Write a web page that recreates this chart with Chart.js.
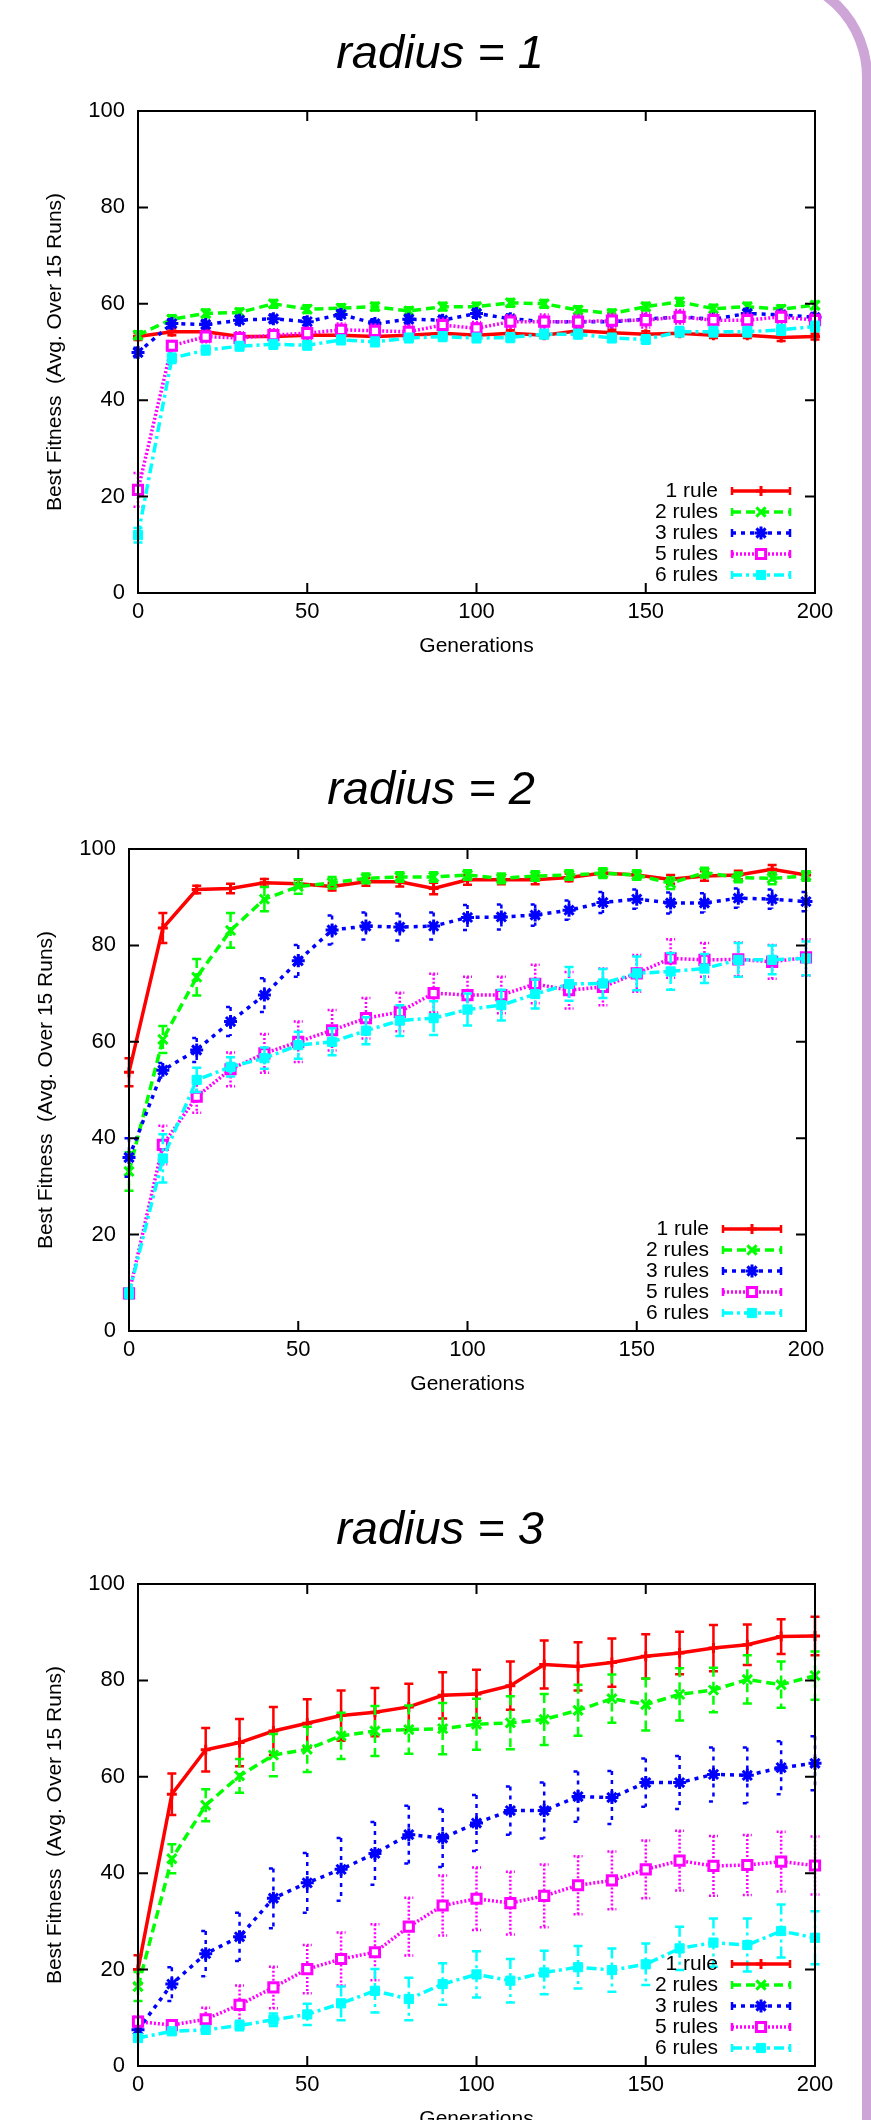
<!DOCTYPE html>
<html>
<head>
<meta charset="utf-8">
<title>Best fitness by radius</title>
<script src="https://cdn.jsdelivr.net/npm/chart.js@4.4.1/dist/chart.umd.min.js"></script>
<style>
  html, body { margin: 0; padding: 0; background: #fff; }
  body { width: 871px; height: 2120px; overflow: hidden; position: relative; }
  #frame { position: absolute; left: -300px; top: -29px; width: 1172px; height: 2400px;
           box-sizing: border-box; border: 10px solid #cda5d6; border-radius: 106px; }
  .panel { position: absolute; width: 871px; height: 738px; }
  .panel canvas { display: block; }
</style>
</head>
<body>
<div id="frame"></div>
<div class="panel" style="left:0;top:0"><canvas id="c1" width="871" height="738"></canvas></div>
<div class="panel" style="left:-9px;top:738px"><canvas id="c2" width="871" height="738"></canvas></div>
<div class="panel" style="left:0;top:1473px"><canvas id="c3" width="871" height="738"></canvas></div>
<script>
// generations sampled every 10
const gens = [0, 10, 20, 30, 40, 50, 60, 70, 80, 90, 100, 110, 120, 130, 140, 150, 160, 170, 180, 190, 200];
const ruleLabels = ['1 rule', '2 rules', '3 rules', '5 rules', '6 rules'];

// radius = 1
const r1One   = [53.2, 54.2, 54.2, 53.2, 53.2, 53.5, 53.5, 53.2, 53.5, 53.9, 53.5, 53.9, 53.5, 54.4, 54.0, 53.7, 53.9, 53.5, 53.5, 53.0, 53.2];
const r1Two   = [53.5, 56.8, 58.0, 58.2, 60.0, 58.9, 59.1, 59.4, 58.5, 59.4, 59.4, 60.2, 60.0, 58.7, 58.0, 59.4, 60.4, 59.0, 59.4, 58.9, 59.7];
const r1Three = [49.9, 55.9, 55.7, 56.6, 56.9, 56.3, 57.8, 55.9, 56.8, 56.6, 58.0, 56.9, 56.3, 56.3, 56.3, 56.8, 57.3, 56.8, 58.0, 57.7, 57.2];
const r1Five  = [21.4, 51.3, 53.2, 52.9, 53.5, 53.9, 54.6, 54.4, 54.2, 55.6, 54.9, 56.3, 56.3, 56.3, 56.5, 56.6, 57.3, 56.6, 56.6, 57.3, 56.6];
const r1Six   = [12.0, 48.7, 50.4, 51.2, 51.6, 51.4, 52.5, 52.1, 52.9, 53.2, 52.9, 53.0, 53.7, 53.7, 52.9, 52.6, 54.2, 54.2, 54.2, 54.6, 55.3];
const r1OneErr   = [0.7, 0.7, 0.6, 0.6, 0.6, 0.6, 0.6, 0.6, 0.6, 0.6, 0.6, 0.6, 0.6, 0.6, 0.6, 0.6, 0.6, 0.6, 0.6, 0.7, 0.6];
const r1TwoErr   = [0.8, 0.8, 0.8, 0.8, 0.8, 0.8, 0.8, 0.8, 0.8, 0.8, 0.8, 0.8, 0.8, 0.8, 0.8, 0.8, 0.8, 0.8, 0.8, 0.8, 0.8];
const r1ThreeErr = [1.0, 0.9, 0.9, 0.9, 0.9, 0.9, 0.9, 0.9, 0.9, 0.9, 0.9, 0.9, 0.9, 0.9, 0.9, 0.9, 0.9, 0.9, 0.9, 0.9, 0.9];
const r1FiveErr  = [3.5, 1.0, 1.2, 1.2, 1.2, 1.2, 1.3, 1.3, 1.3, 1.3, 1.3, 1.3, 1.5, 1.4, 1.4, 1.5, 1.4, 1.3, 1.4, 1.3, 1.3];
const r1SixErr   = [1.5, 1.0, 0.9, 0.9, 0.9, 0.9, 0.9, 0.9, 0.9, 0.9, 0.9, 0.9, 0.9, 0.9, 0.9, 0.9, 1.0, 1.0, 1.0, 1.0, 1.0];

// radius = 2
const r2One   = [53.7, 83.6, 91.6, 91.8, 93.0, 92.8, 92.2, 93.2, 93.2, 91.8, 93.6, 93.6, 93.6, 94.1, 95.0, 94.6, 93.7, 94.4, 94.6, 95.8, 94.6];
const r2Two   = [33.1, 60.5, 73.4, 83.1, 89.6, 92.2, 93.0, 93.9, 94.2, 94.2, 94.6, 93.9, 94.4, 94.6, 95.0, 94.6, 92.9, 95.1, 94.1, 93.9, 94.4];
const r2Three = [36.0, 54.1, 58.3, 64.2, 69.7, 76.8, 83.2, 84.0, 83.8, 84.0, 85.8, 85.9, 86.3, 87.3, 88.9, 89.6, 88.8, 88.8, 89.8, 89.6, 89.1];
const r2Five  = [7.8, 38.6, 48.6, 54.3, 57.6, 60.0, 62.4, 64.9, 66.2, 70.1, 69.7, 69.7, 72.0, 70.7, 71.4, 74.2, 77.3, 77.0, 77.1, 76.6, 77.5];
const r2Six   = [7.8, 35.8, 52.1, 54.8, 56.6, 59.3, 60.0, 62.3, 64.4, 64.9, 66.7, 67.6, 69.9, 72.0, 72.1, 74.2, 74.6, 75.2, 77.0, 77.0, 77.3];
const r2OneErr   = [2.9, 3.1, 0.8, 1.0, 0.8, 0.8, 0.8, 0.8, 1.0, 1.2, 1.0, 0.9, 0.9, 0.8, 0.8, 0.8, 0.9, 1.0, 0.9, 0.9, 0.8];
const r2TwoErr   = [4.0, 2.8, 3.8, 3.6, 2.5, 1.5, 1.2, 1.0, 1.0, 1.0, 1.0, 1.0, 1.0, 1.0, 1.0, 1.0, 1.2, 1.0, 1.0, 1.2, 1.0];
const r2ThreeErr = [4.0, 1.5, 2.5, 3.0, 3.5, 3.3, 3.0, 2.8, 2.8, 2.8, 2.6, 2.6, 2.2, 2.0, 2.2, 2.0, 2.2, 2.0, 2.0, 2.0, 2.0];
const r2FiveErr  = [1.0, 4.0, 3.3, 3.5, 4.0, 4.2, 4.2, 4.2, 4.0, 4.0, 3.8, 3.8, 4.0, 3.8, 3.8, 3.8, 4.0, 3.5, 3.5, 3.5, 3.8];
const r2SixErr   = [1.0, 5.0, 2.5, 2.0, 2.2, 2.8, 2.8, 2.8, 3.2, 3.5, 3.3, 3.2, 3.0, 3.5, 3.0, 3.5, 3.8, 3.0, 3.5, 3.0, 3.5];

// radius = 3
const r3One   = [20.0, 56.4, 65.6, 67.1, 69.5, 71.1, 72.7, 73.4, 74.5, 76.9, 77.2, 78.9, 83.3, 82.9, 83.7, 85.0, 85.7, 86.7, 87.4, 89.1, 89.2];
const r3Two   = [16.5, 43.0, 54.1, 60.2, 64.5, 65.7, 68.5, 69.5, 69.8, 70.0, 70.9, 71.2, 71.9, 73.8, 76.2, 75.0, 77.1, 78.0, 80.2, 79.1, 81.0];
const r3Three = [7.5, 17.0, 23.3, 26.8, 34.8, 38.0, 40.8, 44.1, 48.0, 47.3, 50.4, 53.0, 53.0, 55.9, 55.7, 58.8, 58.8, 60.5, 60.3, 61.9, 62.8];
const r3Five  = [9.2, 8.5, 9.7, 12.7, 16.3, 20.1, 22.2, 23.6, 28.9, 33.3, 34.7, 33.8, 35.3, 37.5, 38.5, 40.8, 42.6, 41.5, 41.7, 42.4, 41.6];
const r3Six   = [5.8, 7.2, 7.5, 8.4, 9.6, 10.7, 13.0, 15.6, 13.9, 17.0, 19.0, 17.7, 19.4, 20.5, 19.9, 21.1, 24.4, 25.6, 25.1, 28.0, 26.6];
const r3OneErr   = [3.0, 4.3, 4.5, 4.9, 5.0, 5.0, 5.2, 5.0, 4.8, 4.8, 5.0, 5.0, 5.0, 5.0, 5.0, 4.6, 4.4, 4.8, 4.2, 3.6, 4.0];
const r3TwoErr   = [3.0, 3.0, 3.3, 3.5, 4.4, 4.7, 4.8, 5.2, 5.0, 5.3, 5.3, 5.5, 5.3, 5.3, 5.0, 5.4, 5.4, 4.6, 5.0, 4.8, 5.0];
const r3ThreeErr = [1.0, 3.5, 4.7, 5.0, 6.2, 6.2, 6.5, 6.5, 6.0, 6.0, 5.8, 5.0, 5.8, 5.2, 5.5, 5.0, 5.5, 5.6, 5.8, 5.5, 5.6];
const r3FiveErr  = [1.0, 1.0, 2.4, 4.0, 4.3, 5.0, 5.5, 5.8, 6.0, 6.2, 6.5, 6.5, 6.5, 6.0, 6.0, 6.0, 6.2, 6.2, 6.2, 6.2, 6.0];
const r3SixErr   = [0.5, 0.5, 0.7, 1.0, 1.3, 2.2, 3.5, 4.5, 4.4, 4.3, 4.8, 4.5, 4.5, 4.4, 4.5, 4.3, 4.5, 5.0, 5.5, 5.5, 5.5];

const colors  = ['#ff0000', '#00ff00', '#0000ff', '#ff00ff', '#00ffff'];
const dashes  = [[], [9, 5], [4, 5], [2, 2], [10, 4, 3, 4]];
const markers = ['cross', 'crossRot', 'star', 'rect', 'rect'];
const markFill = ['#ff0000', '#00ff00', '#0000ff', '#ffffff', '#00ffff'];

Chart.defaults.font.family = "'Liberation Sans', Arial, sans-serif";
Chart.defaults.color = '#000';

// gnuplot style yerrorbars, drawn under each dataset's line
const errorBars = {
  id: 'errorBars',
  beforeDatasetDraw(chart, args) {
    const ds = chart.data.datasets[args.index];
    if (!ds.err) return;
    const y = chart.scales.y, ctx = chart.ctx;
    ctx.save();
    ctx.strokeStyle = ds.borderColor;
    ctx.lineWidth = 2.5;
    ctx.setLineDash(ds.borderDash);
    args.meta.data.forEach((pt, i) => {
      const v = ds.data[i].y, e = ds.err[i];
      const t = y.getPixelForValue(v + e), b = y.getPixelForValue(v - e);
      ctx.beginPath();
      ctx.moveTo(pt.x, t); ctx.lineTo(pt.x, b);
      ctx.moveTo(pt.x - 4.5, t); ctx.lineTo(pt.x + 4.5, t);
      ctx.moveTo(pt.x - 4.5, b); ctx.lineTo(pt.x + 4.5, b);
      ctx.stroke();
    });
    ctx.restore();
  }
};

// border box, inward ticks on all sides, title and key
const frame = {
  id: 'frame',
  afterDatasetsDraw(chart, args, opts) {
    const { ctx, chartArea: a, scales: { x, y } } = chart;
    ctx.save();
    ctx.strokeStyle = '#000';
    ctx.lineWidth = 2;
    ctx.setLineDash([]);
    ctx.beginPath();
    x.ticks.forEach(t => {
      const px = x.getPixelForValue(t.value);
      ctx.moveTo(px, a.bottom); ctx.lineTo(px, a.bottom - 10);
      ctx.moveTo(px, a.top); ctx.lineTo(px, a.top + 10);
    });
    y.ticks.forEach(t => {
      const py = y.getPixelForValue(t.value);
      ctx.moveTo(a.left, py); ctx.lineTo(a.left + 10, py);
      ctx.moveTo(a.right, py); ctx.lineTo(a.right - 10, py);
    });
    ctx.stroke();
    ctx.strokeRect(a.left, a.top, a.right - a.left, a.bottom - a.top);

    ctx.fillStyle = '#000';
    ctx.font = "italic 47px 'Liberation Sans', Arial, sans-serif";
    ctx.textAlign = 'center';
    ctx.textBaseline = 'middle';
    ctx.fillText(opts.text, opts.cx, opts.cy);

    ctx.font = "21px 'Liberation Sans', Arial, sans-serif";
    const tx = a.right - 97, x0 = a.right - 83, x1 = a.right - 25, xm = (x0 + x1) / 2;
    chart.data.datasets.forEach((ds, i) => {
      const ly = a.bottom - 102 + i * 21;
      ctx.textAlign = 'right';
      ctx.fillStyle = '#000';
      ctx.fillText(ds.label, tx, ly);
      ctx.strokeStyle = ds.borderColor;
      ctx.lineWidth = 3.5;
      ctx.setLineDash(ds.borderDash);
      ctx.beginPath(); ctx.moveTo(x0, ly); ctx.lineTo(x1, ly); ctx.stroke();
      ctx.lineWidth = 2.5;
      ctx.setLineDash([]);
      ctx.beginPath();
      ctx.moveTo(x0, ly - 4); ctx.lineTo(x0, ly + 4);
      ctx.moveTo(x1, ly - 4); ctx.lineTo(x1, ly + 4);
      ctx.stroke();
      ctx.fillStyle = ds.pointBackgroundColor;
      ctx.lineWidth = ds.pointBorderWidth;
      Chart.helpers.drawPoint(ctx, { pointStyle: ds.pointStyle, radius: ds.pointRadius,
        borderWidth: ds.pointBorderWidth, rotation: 0 }, xm, ly);
    });
    ctx.restore();
  }
};

function makeChart(id, title, cy, series, errs) {
  new Chart(document.getElementById(id), {
    type: 'line',
    data: {
      datasets: series.map((s, i) => ({
        label: ruleLabels[i],
        data: gens.map((g, j) => ({ x: g, y: s[j] })),
        err: errs[i],
        borderColor: colors[i],
        backgroundColor: markFill[i],
        borderWidth: 3.5,
        borderDash: dashes[i],
        pointStyle: markers[i],
        pointRadius: i === 0 ? 5 : 6.5,
        pointBorderWidth: i === 4 ? 1 : 3,
        pointBackgroundColor: markFill[i],
        pointBorderColor: colors[i],
        tension: 0,
        fill: false,
        clip: false,
        order: 4 - i
      }))
    },
    options: {
      responsive: false,
      animation: false,
      events: [],
      layout: { padding: { top: 111, right: 56, bottom: 73, left: 0 } },
      plugins: {
        legend: { display: false },
        tooltip: { enabled: false },
        frame: { text: title, cx: 440, cy: cy }
      },
      scales: {
        x: {
          type: 'linear', min: 0, max: 200,
          ticks: { stepSize: 50, padding: 6, font: { size: 22 } },
          grid: { display: false, drawTicks: false },
          border: { display: false },
          title: { display: true, text: 'Generations', font: { size: 21 }, padding: { top: 0, bottom: 6 } },
          afterFit(s) { s.height = 72; }
        },
        y: {
          min: 0, max: 100,
          ticks: { stepSize: 20, padding: 13, font: { size: 22 } },
          grid: { display: false, drawTicks: false },
          border: { display: false },
          title: { display: true, text: 'Best Fitness  (Avg. Over 15 Runs)', font: { size: 21 }, padding: { top: 43, bottom: 0 } },
          afterFit(s) { s.width = 138; }
        }
      }
    },
    plugins: [errorBars, frame]
  });
}

makeChart('c1', 'radius = 1', 55, [r1One, r1Two, r1Three, r1Five, r1Six],
  [r1OneErr, r1TwoErr, r1ThreeErr, r1FiveErr, r1SixErr]);
makeChart('c2', 'radius = 2', 53, [r2One, r2Two, r2Three, r2Five, r2Six],
  [r2OneErr, r2TwoErr, r2ThreeErr, r2FiveErr, r2SixErr]);
makeChart('c3', 'radius = 3', 58, [r3One, r3Two, r3Three, r3Five, r3Six],
  [r3OneErr, r3TwoErr, r3ThreeErr, r3FiveErr, r3SixErr]);
</script>
</body>
</html>
